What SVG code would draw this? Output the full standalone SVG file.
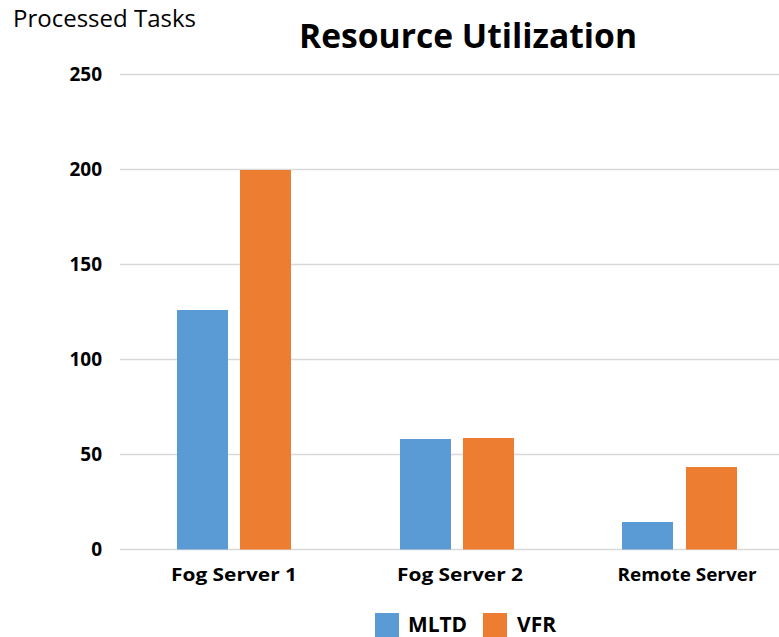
<svg xmlns="http://www.w3.org/2000/svg" width="779" height="637" viewBox="0 0 779 637">
  <style>
    text { font-family: "Open Sans", "Noto Sans", "Liberation Sans", sans-serif; fill: #000; }
    .grid { stroke: #d9d9d9; stroke-width: 1.3; }
    .tick { font-size: 19px; font-weight: bold; text-anchor: end; }
    .cat { font-size: 18px; font-weight: bold; text-anchor: middle; }
    .mltd { fill: #5b9bd5; }
    .vfr { fill: #ed7d31; }
    .legend { font-size: 21px; font-weight: bold; }
  </style>
  <rect width="779" height="637" fill="#fff"/>

  <!-- axis title and chart title -->
  <text x="13" y="27" font-size="24" textLength="183" lengthAdjust="spacingAndGlyphs">Processed Tasks</text>
  <text x="299" y="48" font-size="34" font-weight="bold" textLength="338" lengthAdjust="spacingAndGlyphs">Resource Utilization</text>

  <!-- gridlines and value labels -->
  <g id="axis">
    <line class="grid" x1="120" y1="74.5" x2="779" y2="74.5"/>
    <line class="grid" x1="120" y1="169.5" x2="779" y2="169.5"/>
    <line class="grid" x1="120" y1="264.5" x2="779" y2="264.5"/>
    <line class="grid" x1="120" y1="359.5" x2="779" y2="359.5"/>
    <line class="grid" x1="120" y1="454.5" x2="779" y2="454.5"/>
    <line class="grid" x1="120" y1="549.5" x2="779" y2="549.5"/>
    <text class="tick" x="102" y="81">250</text>
    <text class="tick" x="102" y="176">200</text>
    <text class="tick" x="102" y="271">150</text>
    <text class="tick" x="102" y="366">100</text>
    <text class="tick" x="102" y="461">50</text>
    <text class="tick" x="102" y="556">0</text>
  </g>

  <!-- bars per server -->
  <g id="fog-server-1">
    <rect class="mltd" x="177" y="310" width="51" height="239.5"/>
    <rect class="vfr" x="240" y="170" width="51" height="379.5"/>
    <text class="cat" x="234" y="581" textLength="126" lengthAdjust="spacingAndGlyphs">Fog Server 1</text>
  </g>
  <g id="fog-server-2">
    <rect class="mltd" x="400" y="439" width="51" height="110.5"/>
    <rect class="vfr" x="463" y="438" width="51" height="111.5"/>
    <text class="cat" x="460" y="581" textLength="126" lengthAdjust="spacingAndGlyphs">Fog Server 2</text>
  </g>
  <g id="remote-server">
    <rect class="mltd" x="622" y="522" width="51" height="27.5"/>
    <rect class="vfr" x="686" y="467" width="51" height="82.5"/>
    <text class="cat" x="687" y="581" textLength="139" lengthAdjust="spacingAndGlyphs">Remote Server</text>
  </g>

  <!-- legend -->
  <g id="legend">
    <rect class="mltd" x="375" y="613" width="24" height="24"/>
    <text class="legend" x="408" y="632" textLength="59" lengthAdjust="spacingAndGlyphs">MLTD</text>
    <rect class="vfr" x="483" y="613" width="24" height="24"/>
    <text class="legend" x="517" y="632" textLength="39" lengthAdjust="spacingAndGlyphs">VFR</text>
  </g>
</svg>
